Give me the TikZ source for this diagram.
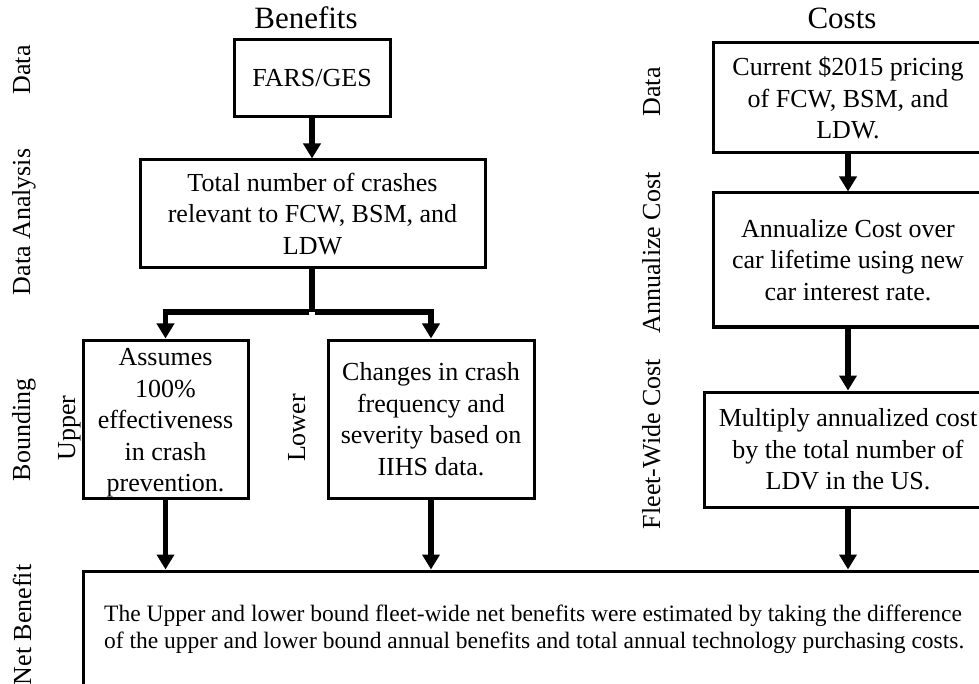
\documentclass[tikz,border=0pt]{standalone}
\usepackage{fontspec}
\setmainfont{Liberation Serif}
\usetikzlibrary{arrows.meta}
\begin{document}
\begin{tikzpicture}[x=1pt,y=-1pt,
  box/.style={draw,line width=3pt,inner sep=0pt,align=center,font=\fontsize{26}{31.5}\selectfont},
  txt/.style={inner sep=0pt,align=center,font=\fontsize{26}{31.5}\selectfont},
  head/.style={anchor=base,font=\fontsize{31}{36}\selectfont},
  side/.style={anchor=base,rotate=90,font=\fontsize{26}{30}\selectfont},
  link/.style={line width=5.5pt},
  arr/.style={line width=5.5pt,-{Triangle[width=17pt,length=15pt]}}]
\clip (0,0) rectangle (979,684);
% headings
\node[head] (hben) at (306,29) {Benefits};
\node[head] (hcost) at (842,29) {Costs};
% left row labels
\node[side] (ldata) at (30,70) {Data};
\node[side] (lanal) at (30,222) {Data Analysis};
\node[side] (lbound) at (30,430) {Bounding};
\node[side] (lnet) at (31,625) {Net Benefit};
\node[side] (lup) at (75,428) {Upper};
\node[side] (llow) at (305,428) {Lower};
% right row labels
\node[side] (rdata) at (660,92) {Data};
\node[side] (rann) at (660,253) {Annualize Cost};
\node[side] (rfleet) at (660,444) {Fleet-Wide Cost};
% benefit boxes
\node[box,minimum width=156pt,minimum height=77pt] (fars) at (312,78.5) {FARS/GES};
\node[box,minimum width=345pt,minimum height=108pt] (total) at (312.5,214) {Total number of crashes\\relevant to FCW, BSM, and\\LDW};
\node[box,minimum width=165pt,minimum height=158pt] (upper) at (165.5,419) {};
\node[txt] (uppertxt) at (165.5,423) {Assumes\\100\%\\effectiveness\\in crash\\prevention.};
\node[box,minimum width=206pt,minimum height=158pt] (lower) at (431,419) {Changes in crash\\frequency and\\severity based on\\IIHS data.};
% cost boxes
\node[box,minimum width=270pt,minimum height=110pt] (cur) at (848,98) {Current \$2015 pricing\\of FCW, BSM, and\\LDW.};
\node[box,minimum width=270pt,minimum height=134pt] (ann) at (848,260) {Annualize Cost over\\car lifetime using new\\car interest rate.};
\node[box,minimum width=288pt,minimum height=115pt] (mult) at (848,449.5) {Multiply annualized cost\\by the total number of\\LDV in the US.};
% net benefit box
\node[box,minimum width=937pt,minimum height=150pt] (net) at (551.5,646) {};
\node[anchor=west,align=left,inner sep=0pt,font=\fontsize{23.5}{27}\selectfont] (nettxt) at (104,629) {The Upper and lower bound fleet-wide net benefits were estimated by taking the difference\\of the upper and lower bound annual benefits and total annual technology purchasing costs.};
% connectors
\coordinate (split) at (312,312);
\draw[arr] (fars.south) -- (fars.south |- total.north);
\draw[link] (total.south -| split) -- (split);
\draw[arr] ([xshift=-2.75pt]split) -| (upper.north);
\draw[arr] ([xshift=2.75pt]split) -| (lower.north);
\draw[arr] (upper.south) -- (upper.south |- net.north);
\draw[arr] (lower.south) -- (lower.south |- net.north);
\draw[arr] (cur.south) -- (ann.north);
\draw[arr] (ann.south) -- (mult.north);
\draw[arr] (mult.south) -- (mult.south |- net.north);
\end{tikzpicture}
\end{document}
